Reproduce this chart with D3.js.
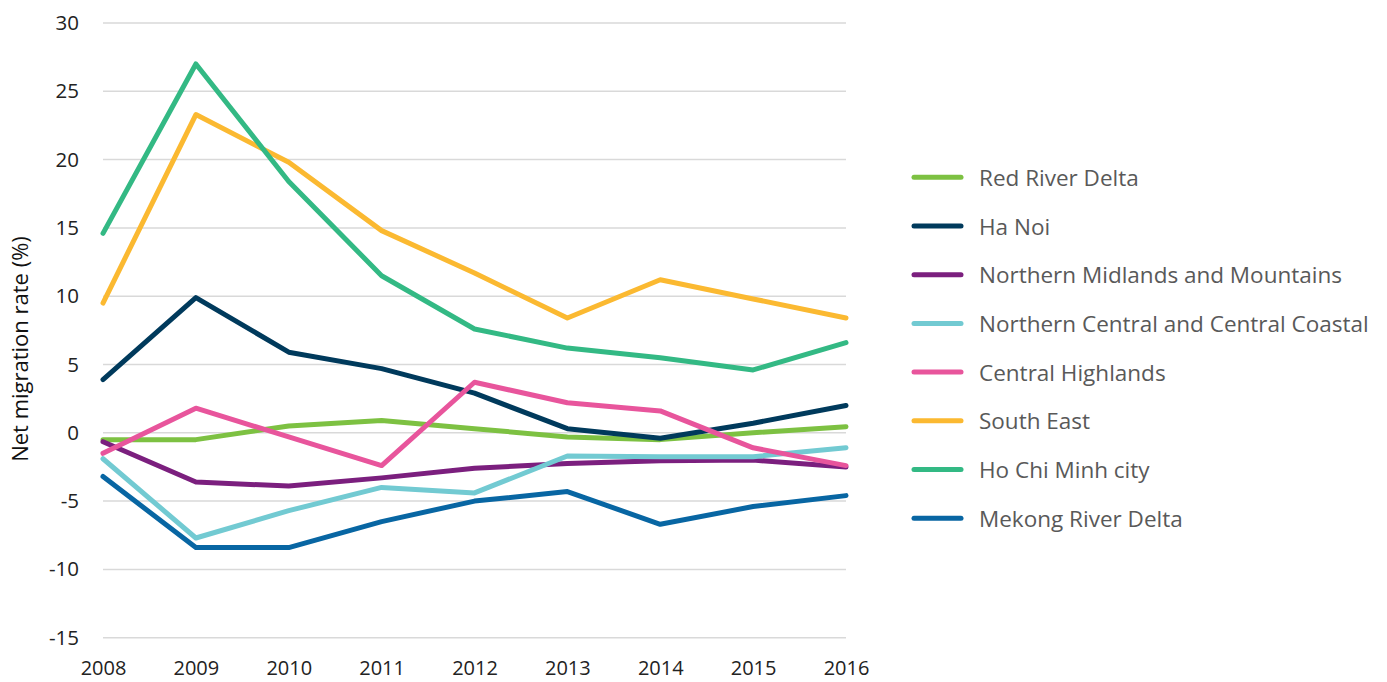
<!DOCTYPE html>
<html>
<head>
<meta charset="utf-8">
<script src="https://cdn.jsdelivr.net/npm/d3@7"></script>
<style>
  body { margin: 0; background: #fff; }
  svg { display: block; font-family: "Open Sans", sans-serif; }
</style>
</head>
<body>
<div id="chart"></div>
<script>
(function() {
  'use strict';

  var years = [2008, 2009, 2010, 2011, 2012, 2013, 2014, 2015, 2016];
  var yTicks = [-15, -10, -5, 0, 5, 10, 15, 20, 25, 30];

  var redRiverDelta = [-0.5, -0.5, 0.5, 0.9, 0.3, -0.3, -0.5, 0.0, 0.45];
  var haNoi = [3.9, 9.9, 5.9, 4.7, 2.9, 0.3, -0.4, 0.7, 2.0];
  var northernMidlands = [-0.65, -3.6, -3.9, -3.3, -2.6, -2.25, -2.05, -2.0, -2.5];
  var northernCentral = [-1.9, -7.7, -5.7, -4.0, -4.4, -1.7, -1.75, -1.75, -1.1];
  var centralHighlands = [-1.5, 1.8, -0.3, -2.4, 3.7, 2.2, 1.6, -1.1, -2.4];
  var southEast = [9.5, 23.3, 19.8, 14.8, 11.7, 8.4, 11.2, 9.8, 8.4];
  var hoChiMinh = [14.6, 27.0, 18.4, 11.5, 7.6, 6.2, 5.5, 4.6, 6.6];
  var mekongDelta = [-3.2, -8.4, -8.4, -6.5, -5.0, -4.3, -6.7, -5.4, -4.6];

  var seriesNames = ['Red River Delta', 'Ha Noi', 'Northern Midlands and Mountains',
    'Northern Central and Central Coastal', 'Central Highlands', 'South East',
    'Ho Chi Minh city', 'Mekong River Delta'];
  var seriesValues = [redRiverDelta, haNoi, northernMidlands, northernCentral,
    centralHighlands, southEast, hoChiMinh, mekongDelta];
  var seriesColors = ['#7dc142', '#003a5c', '#7b1f7e', '#72cad2',
    '#e8559c', '#fbb931', '#33b984', '#0866a3'];

  var width = 1387, height = 682;
  var left = 103, right = 846, top = 23, bottom = 637.7;

  var svg = d3.select('#chart')
    .append('svg')
    .attr('width', width)
    .attr('height', height);

  var x = d3.scaleLinear().domain([2008, 2016]).range([left, right]);
  var y = d3.scaleLinear().domain([-15, 30]).range([bottom, top]);

  // gridlines
  svg.append('g')
    .selectAll('line')
    .data(yTicks)
    .enter()
    .append('line')
    .attr('x1', left)
    .attr('x2', right)
    .attr('y1', function(d) { return y(d); })
    .attr('y2', function(d) { return y(d); })
    .attr('stroke', '#d9d9d9')
    .attr('stroke-width', 1.5);

  // y axis labels (plain hyphen for negatives, like the original)
  var yAxis = d3.axisLeft(y).tickValues(yTicks).tickSize(0).tickPadding(0)
    .tickFormat(function(d) { return String(d); });
  svg.append('g')
    .attr('transform', 'translate(79,0)')
    .call(yAxis)
    .call(function(g) { g.select('.domain').remove(); })
    .selectAll('text')
    .attr('fill', '#222')
    .style('font-size', '20.5px')
    .style('font-family', '"Open Sans", sans-serif');

  // x axis labels
  var xAxis = d3.axisBottom(x).tickValues(years).tickFormat(d3.format('d')).tickSize(0).tickPadding(0);
  svg.append('g')
    .attr('transform', 'translate(0,661)')
    .call(xAxis)
    .call(function(g) { g.select('.domain').remove(); })
    .selectAll('text')
    .attr('fill', '#222')
    .style('font-size', '20px')
    .style('font-family', '"Open Sans", sans-serif');

  // y title
  svg.append('text')
    .attr('transform', 'translate(28,349) rotate(-90)')
    .attr('text-anchor', 'middle')
    .attr('fill', '#111')
    .style('font-size', '22px')
    .text('Net migration rate (%)');

  var line = d3.line()
    .x(function(d, i) { return x(years[i]); })
    .y(function(d) { return y(d); });

  // lines
  svg.append('g')
    .selectAll('path')
    .data(seriesValues)
    .enter()
    .append('path')
    .attr('d', line)
    .attr('fill', 'none')
    .attr('stroke', function(d, i) { return seriesColors[i]; })
    .attr('stroke-width', 5)
    .attr('stroke-linejoin', 'round')
    .attr('stroke-linecap', 'round');

  // legend
  var legend = svg.append('g')
    .attr('transform', 'translate(914,177.3)');
  var items = legend.selectAll('g')
    .data(seriesNames)
    .enter()
    .append('g')
    .attr('transform', function(d, i) { return 'translate(0,' + i * 48.7 + ')'; });
  items.append('line')
    .attr('x1', 0)
    .attr('x2', 47)
    .attr('stroke', function(d, i) { return seriesColors[i]; })
    .attr('stroke-width', 5)
    .attr('stroke-linecap', 'round');
  items.append('text')
    .attr('x', 65)
    .attr('y', 8.5)
    .attr('fill', '#595959')
    .style('font-size', '22.5px')
    .text(function(d) { return d; });
})();
</script>
</body>
</html>
